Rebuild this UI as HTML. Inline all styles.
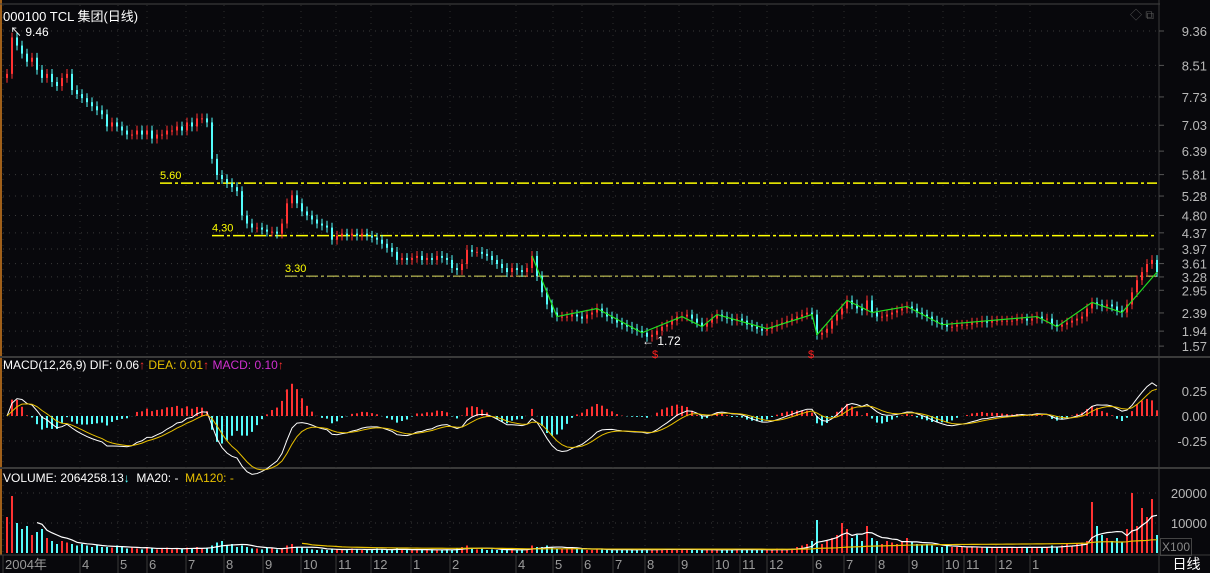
<!DOCTYPE html>
<html><head><meta charset="utf-8">
<style>
html,body{margin:0;padding:0;background:#08080c;font-family:"Liberation Sans","Noto Sans CJK SC",sans-serif;}
#wrap{position:relative;width:1210px;height:573px;overflow:hidden;background:#08080c;font-family:"Liberation Sans","Noto Sans CJK SC",sans-serif;}
svg{position:absolute;left:0;top:0;}
.ov{position:absolute;font-family:"Liberation Sans","Noto Sans CJK SC",sans-serif;}
</style></head>
<body>
<div id="wrap">
<svg id="chart" width="1210" height="573"></svg>
<div class="ov" style="left:3px;top:6px;color:#fff;font-size:13px;">000100 TCL 集团(日线)</div>
<div class="ov" style="left:1130px;top:6px;color:#555;font-size:12px;">◇ ⧉</div>
<div class="ov" style="left:3px;top:358px;font-size:12px;white-space:nowrap;">
<span style="color:#fff">MACD(12,26,9) DIF: 0.06</span><span style="color:#ff3030">↑</span>
<span style="color:#e8c000">DEA: 0.01</span><span style="color:#ff3030">↑</span>
<span style="color:#d030d0">MACD: 0.10</span><span style="color:#ff3030">↑</span></div>
<div class="ov" style="left:3px;top:471px;font-size:12px;white-space:nowrap;">
<span style="color:#fff">VOLUME: 2064258.13</span><span style="color:#54fcfc">↓</span>
<span style="color:#fff">&nbsp;MA20: -</span>&nbsp;&nbsp;<span style="color:#e8c000">MA120: -</span></div>
<div class="ov" style="left:1160px;top:538px;width:30px;height:16px;border:1px solid #444;color:#888;font-size:12px;line-height:16px;text-align:center;">X100</div>
<div class="ov" style="left:1163px;top:556px;width:47px;height:17px;color:#fff;font-size:14px;line-height:17px;text-align:center;">日线</div>
</div>
<script>
// ---- data ----
const closes = [
8.3,9.2,9.0,8.8,8.6,8.7,8.4,8.2,8.3,8.1,
8.0,8.2,8.3,7.9,7.8,7.7,7.6,7.5,7.4,7.3,
7.0,7.1,7.0,6.9,6.8,6.8,6.9,6.8,6.9,6.7,
6.8,6.8,6.9,6.9,7.0,6.9,7.1,7.0,7.2,7.2,
7.1,6.2,5.8,5.7,5.6,5.5,5.4,4.8,4.6,4.5,
4.5,4.45,4.4,4.4,4.35,4.6,5.1,5.3,5.1,4.9,
4.8,4.7,4.6,4.55,4.5,4.2,4.3,4.35,4.3,4.35,
4.3,4.35,4.3,4.25,4.2,4.1,4.0,3.9,3.7,3.75,
3.7,3.75,3.8,3.7,3.75,3.7,3.8,3.75,3.7,3.5,
3.45,3.6,3.95,3.9,3.9,3.85,3.8,3.7,3.6,3.5,
3.4,3.5,3.45,3.4,3.5,3.8,3.3,2.9,2.6,2.4,
2.3,2.3,2.3,2.35,2.3,2.25,2.35,2.4,2.5,2.4,
2.3,2.25,2.15,2.1,2.05,2.0,1.95,1.9,1.8,1.85,
1.95,2.05,2.1,2.2,2.3,2.3,2.35,2.25,2.15,2.05,
2.15,2.25,2.35,2.3,2.25,2.2,2.25,2.2,2.1,2.05,
2.0,1.95,2.0,2.05,2.1,2.15,2.2,2.25,2.3,2.35,
2.4,2.35,1.85,1.9,2.0,2.2,2.35,2.5,2.7,2.6,
2.5,2.45,2.7,2.4,2.3,2.3,2.35,2.4,2.45,2.5,
2.55,2.5,2.4,2.35,2.3,2.2,2.15,2.1,2.05,2.05,
2.1,2.1,2.1,2.15,2.15,2.2,2.15,2.2,2.2,2.2,
2.2,2.2,2.25,2.25,2.2,2.25,2.3,2.25,2.25,2.1,
2.05,2.1,2.15,2.2,2.25,2.3,2.5,2.65,2.6,2.55,
2.6,2.55,2.45,2.4,2.6,2.9,3.2,3.4,3.6,3.7,
3.4];
const volumes = [
12000,19000,10000,8000,9000,6000,7000,8000,5000,4000,
3000,4000,3500,3000,2500,3000,2500,2000,2500,2000,
2000,1800,2500,2000,1500,1800,1500,1200,2000,1500,
1200,1500,1800,1200,1500,1300,1800,1500,2000,1500,
1800,2500,3500,4000,2500,3000,2000,2500,2000,1500,
1500,1200,1800,1500,1200,1500,2500,3000,2000,1800,
1500,1200,1000,1200,1000,1500,1200,1000,1200,1500,
1200,1000,1000,1200,1500,1200,1000,1000,1500,1200,
1000,1000,1200,1000,1000,1200,1000,1000,1200,1000,
1500,2000,2500,1500,1200,1500,1000,1200,1000,1000,
1000,1200,1000,1200,1500,2500,2000,2000,2500,1800,
1500,1500,1200,2000,1500,1200,1000,1000,1500,1200,
1000,1000,1200,1000,1000,1200,1000,1500,1000,1200,
1000,1200,1500,1000,1200,1500,1000,1000,1200,1000,
1000,1200,1000,1000,1200,1000,1500,1000,1000,1200,
1000,1000,1200,1000,1500,1200,1000,1500,2000,2500,
3000,4000,11000,3000,4000,5000,6000,10000,8000,5000,
6000,4000,9000,5000,4000,3000,4000,3500,3000,4000,
5000,3500,3000,2500,3000,2500,2000,2000,2500,2000,
2000,2000,1800,2000,1800,2000,1800,1800,2000,1800,
2000,1800,1800,2000,1800,2000,1800,2000,1800,2500,
2000,2500,3000,2500,3000,3500,4000,17000,9000,6000,
5000,4000,5000,3500,8000,20000,9000,15000,12000,18000,
6000];
const zigzagIdx = [105,110,118,127,135,139,142,152,161,162,168,173,180,187,206,210,217,223,230];
const priceTicks = [9.36,8.51,7.73,7.03,6.39,5.81,5.28,4.80,4.37,3.97,3.61,3.28,2.95,2.39,1.94,1.57];
const macdTicks = [0.25,0.00,-0.25];
const volTicks = [20000,10000];
const hLines = [5.60,4.30,3.30];
const hLineStart = [160,212,285];
const monthLabels = ["2004年","4","5","6","7","8","9","10","11","12","1","2","4","5","6","7","8","9","10","11","12","6","7","8","9","10","11","12","1"];
const monthX = [3,80,118,147,186,224,263,301,336,371,411,450,516,553,582,613,645,679,713,740,767,813,844,876,909,943,964,996,1030];

// ---- scales ----
const X0 = 6, STEP = 5;
const xs = i => X0 + i*STEP;
const yP = p => 31 + (9.36 - p) * 40.45;
const yM = v => 416 - v * 100;
const yV = v => 553 - v * 0.003;

const svg = document.getElementById('chart');
const NS = 'http://www.w3.org/2000/svg';
function mk(tag, attrs, parent){
  const e = document.createElementNS(NS, tag);
  for (const k in attrs) e.setAttribute(k, attrs[k]);
  (parent||svg).appendChild(e);
  return e;
}
function txt(x,y,s,fill,size,anchor){
  const t = mk('text',{x:x,y:y,fill:fill,'font-size':size||12,'text-anchor':anchor||'start','font-family':'"Liberation Sans","Noto Sans CJK SC",sans-serif'});
  t.textContent = s;
  return t;
}

let e;
e = mk('line',{x1:1,y1:0,x2:1,y2:555,stroke:'#a0601a','stroke-width':2});


e = mk('line',{x1:0,y1:4,x2:1160,y2:4,stroke:'#444','stroke-width':1});


[357,468].forEach(y=>{
  e = mk('line',{x1:0,y1:y,x2:1210,y2:y,stroke:'#3a3a3a','stroke-width':2});
  
  
});
e = mk('line',{x1:0,y1:555,x2:1210,y2:555,stroke:'#3a3a3a','stroke-width':1});


e = mk('line',{x1:1159,y1:0,x2:1159,y2:573,stroke:'#3a3a3a','stroke-width':1});



priceTicks.forEach(p=>{
  e = mk('line',{x1:3,y1:yP(p),x2:1159,y2:yP(p),stroke:'#3a3a3a','stroke-dasharray':'1,5'});
  
  
  e = txt(1207,yP(p)+5,p.toFixed(2),'#b8b8b8',13,'end');
  
  
  e = mk('line',{x1:1159,y1:yP(p),x2:1164,y2:yP(p),stroke:'#555'});
  
  
});
macdTicks.forEach(v=>{
  e = mk('line',{x1:3,y1:yM(v),x2:1159,y2:yM(v),stroke:'#3a3a3a','stroke-dasharray':'1,5'});
  
  
  e = txt(1207,yM(v)+5,v.toFixed(2),'#b8b8b8',13,'end');
  
  
});
volTicks.forEach(v=>{
  e = mk('line',{x1:3,y1:yV(v),x2:1159,y2:yV(v),stroke:'#3a3a3a','stroke-dasharray':'1,5'});
  
  
  e = txt(1207,yV(v)+5,String(v),'#b8b8b8',13,'end');
  
  
});
monthX.forEach((x,i)=>{
  e = mk('line',{x1:x,y1:5,x2:x,y2:555,stroke:'#2e2e2e','stroke-dasharray':'1,5'});
  
  
  e = mk('line',{x1:x,y1:555,x2:x,y2:573,stroke:'#3a3a3a'});
  
  
  e = txt(x+2,569,monthLabels[i],'#9a9a9a',13);
  
  
});

hLines.forEach((p,i)=>{
  e = mk('line',{x1:hLineStart[i],y1:yP(p),x2:1157,y2:yP(p),stroke:i<2?'#ffff00':'#e0e060','stroke-width':i<2?1.5:1,'stroke-dasharray':'12,3,3,3'});
  
  
  e = txt(hLineStart[i],yP(p)-4,p.toFixed(2),'#ffff00',11);
  
  
});

closes.forEach((c,i)=>{
  const o = i>0 ? closes[i-1] : c-0.1;
  const up = c>=o;
  const col = up ? '#ff3232' : '#54fcfc';
  const hi = Math.max(o,c)+0.12, lo = Math.min(o,c)-0.12;
  const x = xs(i);
  const g = mk('g',{});
  
  
  mk('line',{x1:x+1,y1:yP(hi),x2:x+1,y2:yP(lo),stroke:col,'stroke-width':1},g);
  const yt = yP(Math.max(o,c)), yb = yP(Math.min(o,c));
  mk('rect',{x:x,y:yt,width:2,height:Math.max(1,yb-yt),fill:col},g);
});

let pts = zigzagIdx.map(i=>(xs(i)+1)+','+yP(closes[i])).join(' ');
e = mk('polyline',{points:pts,fill:'none',stroke:'#22e022','stroke-width':1.2});



let minI = closes.indexOf(Math.min(...closes));
e = txt(10,36,'↖ 9.46','#ffffff',12);


e = txt(xs(minI)-4,345,'← 1.72','#ffffff',12);


[655,811].forEach(x=>{
  e = txt(x,358,'$','#ff2020',11,'middle');
  
  
});

function ema(arr,n){const k=2/(n+1);const out=[];let v=arr[0];arr.forEach((a,i)=>{v=i?a*k+v*(1-k):a;out.push(v);});return out;}
const e12 = ema(closes,6), e26 = ema(closes,13);
const dif = closes.map((c,i)=>e12[i]-e26[i]);
const dea = ema(dif,4.5);
dif.forEach((d,i)=>{
  const h = 2*(d-dea[i]);
  e = mk('line',{x1:xs(i)+1,y1:yM(0),x2:xs(i)+1,y2:yM(h),stroke:h>=0?'#ff3232':'#54fcfc','stroke-width':2});
  
  
});
e = mk('polyline',{points:dif.map((d,i)=>(xs(i)+1)+','+yM(d)).join(' '),fill:'none',stroke:'#ffffff','stroke-width':1});


e = mk('polyline',{points:dea.map((d,i)=>(xs(i)+1)+','+yM(d)).join(' '),fill:'none',stroke:'#e8c000','stroke-width':1});



volumes.forEach((v,i)=>{
  const up = i===0 || closes[i]>=closes[i-1];
  e = mk('rect',{x:xs(i),y:yV(v),width:2,height:553-yV(v),fill:up?'#ff3232':'#54fcfc'});
  
  
});
function sma(arr,n){return arr.map((a,i)=>{if(i<n-1)return null;let s=0;for(let j=i-n+1;j<=i;j++)s+=arr[j];return s/n;});}
const ma20 = sma(volumes,7), ma120 = sma(volumes,60);
[[ma20,'#ffffff','volume-ma20-line'],[ma120,'#e8c000','volume-ma120-line']].forEach(([m,col,nm])=>{
  const p = m.map((v,i)=>v==null?null:(xs(i)+1)+','+yV(v)).filter(Boolean).join(' ');
  e = mk('polyline',{points:p,fill:'none',stroke:col,'stroke-width':1.2});
  
  
});
</script>
</body></html>
